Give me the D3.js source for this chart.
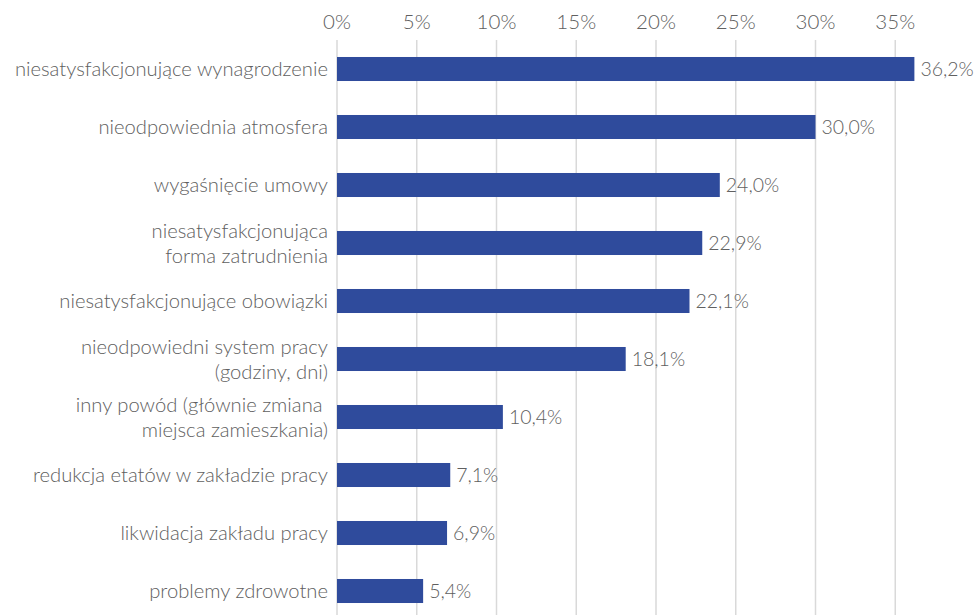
<!DOCTYPE html>
<html><head><meta charset="utf-8">
<script src="https://cdn.jsdelivr.net/npm/d3@7"></script>
<style>body{margin:0;background:#fff}svg{display:block}</style>
</head><body>
<svg id="c" width="976" height="615"></svg>
<script>
const categories = [
  ["niesatysfakcjonujące wynagrodzenie"],
  ["nieodpowiednia atmosfera"],
  ["wygaśnięcie umowy"],
  ["niesatysfakcjonująca", "forma zatrudnienia"],
  ["niesatysfakcjonujące obowiązki"],
  ["nieodpowiedni system pracy", "(godziny, dni)"],
  ["inny powód (głównie zmiana ", "miejsca zamieszkania)"],
  ["redukcja etatów w zakładzie pracy"],
  ["likwidacja zakładu pracy"],
  ["problemy zdrowotne"]
];
const values = [36.2, 30.0, 24.0, 22.9, 22.1, 18.1, 10.4, 7.1, 6.9, 5.4];
const ticks = [0, 5, 10, 15, 20, 25, 30, 35];

const svg = d3.select("#c");
const font = "Lato, sans-serif";
const x = d3.scaleLinear().domain([0, 40]).range([337, 975]);
const y = d3.scaleBand().domain(d3.range(values.length)).range([40, 620]).paddingInner(0.586).paddingOuter(0.293);

svg.append("g").selectAll("line").data(ticks).join("line")
  .attr("x1", d => x(d)).attr("x2", d => x(d))
  .attr("y1", 40).attr("y2", 615)
  .attr("stroke", "#d9d9d9").attr("stroke-width", 1.5);

svg.append("g").selectAll("text").data(ticks).join("text")
  .attr("x", d => x(d)).attr("y", 29)
  .attr("text-anchor", "middle")
  .attr("font-family", font).attr("font-weight", 300).attr("font-size", 20.5).attr("fill", "#606060")
  .text(d => d + "%");

svg.append("g").selectAll("rect").data(values).join("rect")
  .attr("x", x(0)).attr("y", (d, i) => y(i))
  .attr("width", d => x(d) - x(0)).attr("height", y.bandwidth())
  .attr("fill", "#2f4b9c");

svg.append("g").selectAll("text").data(values).join("text")
  .attr("x", d => x(d) + 6).attr("y", (d, i) => y(i) + y.bandwidth() / 2 + 7)
  .attr("font-family", font).attr("font-weight", 300).attr("font-size", 19.5).attr("fill", "#606060")
  .text(d => d.toFixed(1).replace(".", ",") + "%");

const lh = 25;
const cg = svg.append("g");
categories.forEach((lines, i) => {
  const cy = y(i) + y.bandwidth() / 2;
  const t = cg.append("text")
    .attr("text-anchor", "end")
    .attr("font-family", font).attr("font-weight", 300).attr("font-size", 20.2).attr("fill", "#606060");
  lines.forEach((ln, j) => {
    t.append("tspan").attr("x", 328)
      .attr("y", cy + 7 + (j - (lines.length - 1) / 2) * lh)
      .text(ln);
  });
});
</script>
</body></html>
